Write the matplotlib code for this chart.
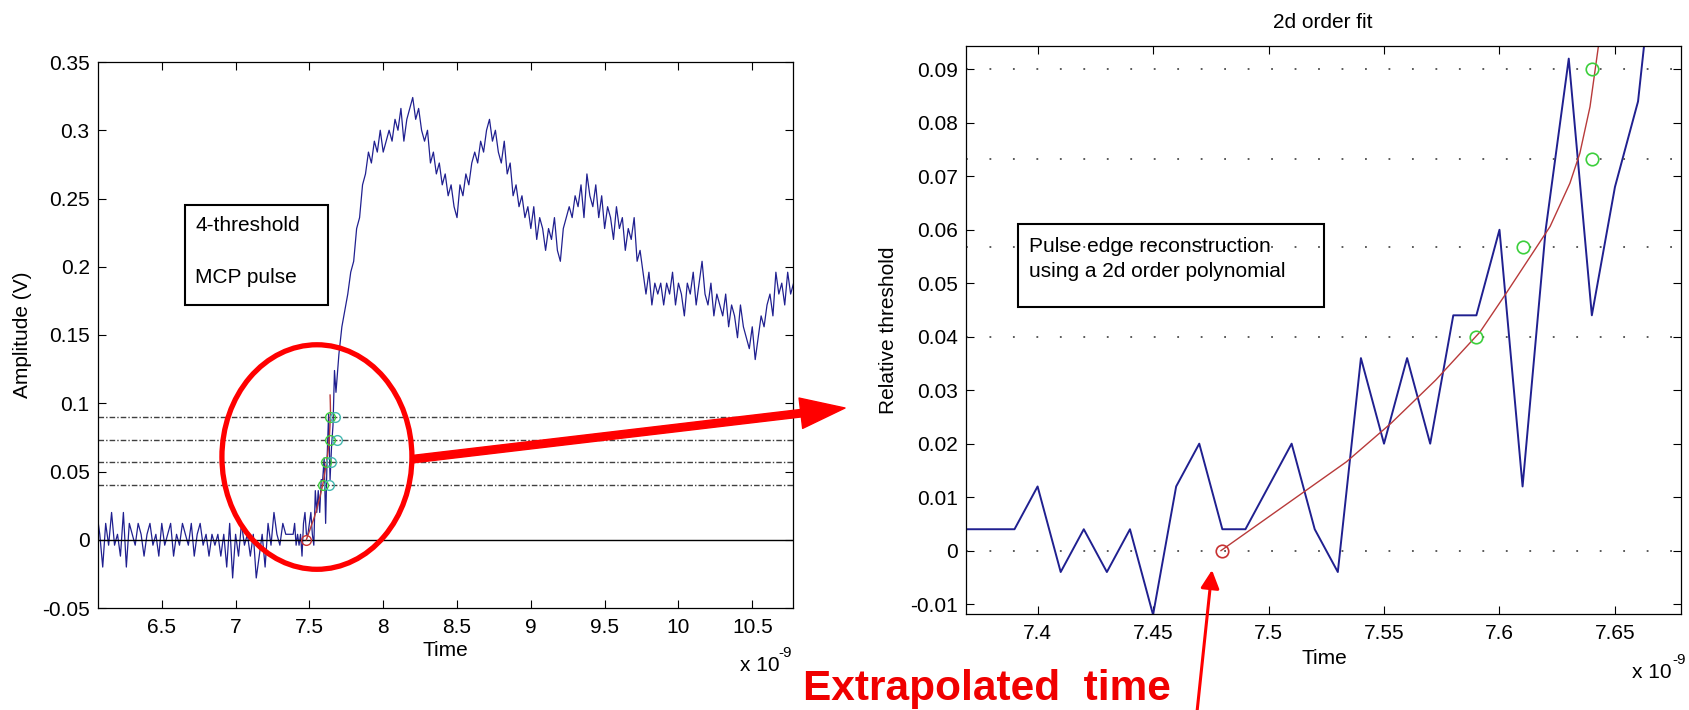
import numpy as np
import matplotlib
matplotlib.use('Agg')
import matplotlib.pyplot as plt
from matplotlib.patches import Ellipse, Rectangle, FancyArrowPatch
from matplotlib.ticker import FuncFormatter

plt.rcParams['font.family'] = ['Liberation Sans', 'DejaVu Sans']

# MCP pulse, amplitudes in mV, times in ns
# baseline part, 20 ps steps
base_t0, base_dt = 6.06, 0.02
base_mv = [20, 4, -20, 12, -4, 20, -4, 4, -12, 20, -20,
           12, 4, -4, 12, 4, -12, 4, 12, -4, 4,
           -12, 12, -4, 4, 12, -12, 4, -4, 12, 4,
           -4, 12, -12, 4, 12, -4, 4, -12, 4, -4,
           4, -12, 4, -20, 12, -28, 4, -12, 12, -4,
           4, -12, 4, -28, -12, 4, -20, 12, -4, 20,
           4, -4, 12, 4, 4]
# leading edge, 10 ps steps (the zoomed part)
edge_t0, edge_dt = 7.37, 0.01
edge_mv = [4, 4, 4, 12, -4, 4, -4, 4, -12, 12, 20, 4, 4, 12, 20, 4,
           -4, 36, 20, 36, 20, 44, 44, 60, 12, 60, 92, 44, 68, 84, 124, 108]
# rest of the pulse, 20 ps steps
tail_t0, tail_dt = 7.70, 0.02
tail_mv = [136, 156, 168, 180, 196, 204, 228, 236, 260, 268,
           284, 276, 292, 284, 300, 284, 292, 300, 292, 308,
           300, 316, 292, 308, 316, 324, 308, 316, 300, 292,
           300, 276, 284, 268, 276, 260, 268, 252, 260, 244,
           236, 260, 252, 268, 260, 276, 284, 276, 292, 284,
           300, 308, 292, 300, 284, 276, 292, 268, 276, 252,
           260, 244, 252, 236, 244, 228, 244, 220, 236, 228,
           212, 228, 220, 236, 212, 204, 228, 236, 244, 236,
           252, 244, 260, 236, 268, 252, 244, 260, 236, 252,
           228, 244, 236, 220, 244, 228, 236, 212, 228, 220,
           236, 204, 212, 196, 180, 196, 172, 188, 180, 188,
           172, 188, 180, 196, 172, 188, 180, 164, 188, 180,
           196, 172, 188, 204, 180, 172, 188, 164, 180, 172,
           164, 180, 156, 172, 164, 148, 172, 156, 148, 140,
           156, 132, 148, 164, 156, 172, 180, 164, 196, 180,
           188, 172, 196, 180, 188]

thresholds = [0.04, 0.0567, 0.0733, 0.09]
cross_t = [7.59, 7.61, 7.64, 7.64]
cross_t_left2 = [7.635, 7.644, 7.686, 7.674]
t_extrap = 7.48

# 2nd order fit curve
fit_t = [7.4794, 7.4951, 7.5144, 7.5337, 7.5530, 7.5724, 7.5916, 7.6024,
         7.6219, 7.6305, 7.6348, 7.6392, 7.6428, 7.6418, 7.6402]
fit_y = [0.0, 0.0048, 0.0107, 0.0166, 0.0238, 0.0319, 0.0409, 0.0478,
         0.0606, 0.0687, 0.0743, 0.0830, 0.0942, 0.1000, 0.1060]

left_xticks = [6.5, 7, 7.5, 8, 8.5, 9, 9.5, 10, 10.5]
left_yticks = [-0.05, 0, 0.05, 0.1, 0.15, 0.2, 0.25, 0.3, 0.35]
right_xticks = [7.4, 7.45, 7.5, 7.55, 7.6, 7.65]
right_yticks = [-0.01, 0, 0.01, 0.02, 0.03, 0.04, 0.05, 0.06, 0.07, 0.08, 0.09]

t = np.concatenate([base_t0 + base_dt * np.arange(len(base_mv)),
                    edge_t0 + edge_dt * np.arange(len(edge_mv)),
                    tail_t0 + tail_dt * np.arange(len(tail_mv))])
amp = np.concatenate([base_mv, edge_mv, tail_mv]) / 1000.0

W, H = 1689, 710
def fx(x):
    return x / W
def fy(y):
    return 1 - y / H

blue = '#202090'
fitred = '#b83a3a'
green = '#3ccf3c'
fs = 15
fmt = FuncFormatter(lambda v, p: '%g' % round(v, 6))

fig = plt.figure(figsize=(16.89, 7.10), dpi=100)
ax1 = fig.add_axes([fx(98), fy(608), 695 / W, 546 / H])
ax2 = fig.add_axes([fx(966), fy(614), 715 / W, 568 / H])

# left: whole pulse
ax1.plot(t, amp, color=blue, lw=0.9)
for th in thresholds:
    ax1.axhline(th, color='0.25', lw=1.0, dashes=(4, 1.5, 1, 1.5))
ax1.axhline(0, color='k', lw=1.0)
ax1.plot(fit_t, fit_y, color=fitred, lw=1.0)
ax1.plot(cross_t, thresholds, 'o', mfc='none', mec=green, ms=7, mew=1)
ax1.plot(cross_t_left2, thresholds, 'o', mfc='none', mec='#44b8b0', ms=7, mew=1)
ax1.plot([t_extrap], [0], 'o', mfc='none', mec='#c83232', ms=7, mew=1)
ax1.set_xlim(6.068, 10.776)
ax1.set_ylim(-0.05, 0.35)
ax1.set_xticks(left_xticks)
ax1.set_yticks(left_yticks)

ax1.add_patch(Rectangle((0.125, 0.555), 0.206, 0.183, transform=ax1.transAxes,
                        fill=False, ec='k', lw=1.5))
ax1.text(0.14, 0.70, '4-threshold', transform=ax1.transAxes, fontsize=fs, va='center')
ax1.text(0.14, 0.606, 'MCP pulse', transform=ax1.transAxes, fontsize=fs, va='center')

ax1.add_patch(Ellipse((7.551, 0.0606), 1.287, 0.1645, fill=False, ec='red',
                      lw=3.8, clip_on=False, zorder=10))

# right: zoom on the edge
ax2.plot(t, amp, color=blue, lw=1.4)
for th in [0] + thresholds:
    ax2.axhline(th, color='0.3', lw=1.3, dashes=(1, 12))
ax2.plot(fit_t, fit_y, color=fitred, lw=1.0)
ax2.plot(cross_t, thresholds, 'o', mfc='none', mec=green, ms=9, mew=1.2)
ax2.plot([t_extrap], [0], 'o', mfc='none', mec='#c83232', ms=9, mew=1.2)
ax2.set_xlim(7.369, 7.6786)
ax2.set_ylim(-0.01185, 0.09436)
ax2.set_xticks(right_xticks)
ax2.set_yticks(right_yticks)

ax2.add_patch(Rectangle((0.0731, 0.541), 0.4276, 0.1456, transform=ax2.transAxes,
                        fill=False, ec='k', lw=1.5))
ax2.text(0.0888, 0.6467, 'Pulse edge reconstruction', transform=ax2.transAxes,
         fontsize=fs, va='center')
ax2.text(0.0888, 0.6026, 'using a 2d order polynomial', transform=ax2.transAxes,
         fontsize=fs, va='center')

for ax in (ax1, ax2):
    ax.xaxis.set_major_formatter(fmt)
    ax.yaxis.set_major_formatter(fmt)
    ax.tick_params(direction='in', length=5.5, width=0.8, top=True, right=True,
                   labelsize=fs)
    ax.tick_params(axis='x', pad=7)
    ax.tick_params(axis='y', pad=6)
    for s in ax.spines.values():
        s.set_linewidth(0.9)

fig.text(fx(23), fy(335), 'Amplitude (V)', rotation=90, ha='center', va='center', fontsize=fs)
fig.text(fx(445), fy(651), 'Time', ha='center', va='center', fontsize=fs)
fig.text(fx(888), fy(330), 'Relative threshold', rotation=90, ha='center', va='center', fontsize=fs)
fig.text(fx(1324), fy(659), 'Time', ha='center', va='center', fontsize=fs)
fig.text(fx(1323), fy(22), '2d order fit', ha='center', va='center', fontsize=fs)

fig.text(fx(740), fy(671), 'x 10', ha='left', va='baseline', fontsize=fs)
fig.text(fx(778), fy(657), '-9', ha='left', va='baseline', fontsize=11)
fig.text(fx(1632), fy(678), 'x 10', ha='left', va='baseline', fontsize=fs)
fig.text(fx(1672), fy(664), '-9', ha='left', va='baseline', fontsize=11)

big = FancyArrowPatch((fx(414), fy(459)), (fx(845), fy(408)), transform=fig.transFigure,
                      arrowstyle='simple,head_length=1.6,head_width=1.1,tail_width=0.27',
                      mutation_scale=20, color='red', shrinkA=0, shrinkB=0, zorder=10)
fig.add_artist(big)
thin = FancyArrowPatch((fx(1197), fy(712)), (fx(1212), fy(570)), transform=fig.transFigure,
                       arrowstyle='-|>,head_length=0.55,head_width=0.28',
                       mutation_scale=20, lw=2.2, color='red', shrinkA=0, shrinkB=0)
fig.add_artist(thin)
fig.text(fx(803), fy(700), 'Extrapolated  time', color='#f00000', fontsize=30.5,
         fontweight='bold', ha='left', va='baseline')

fig.savefig('out.png', dpi=100)
